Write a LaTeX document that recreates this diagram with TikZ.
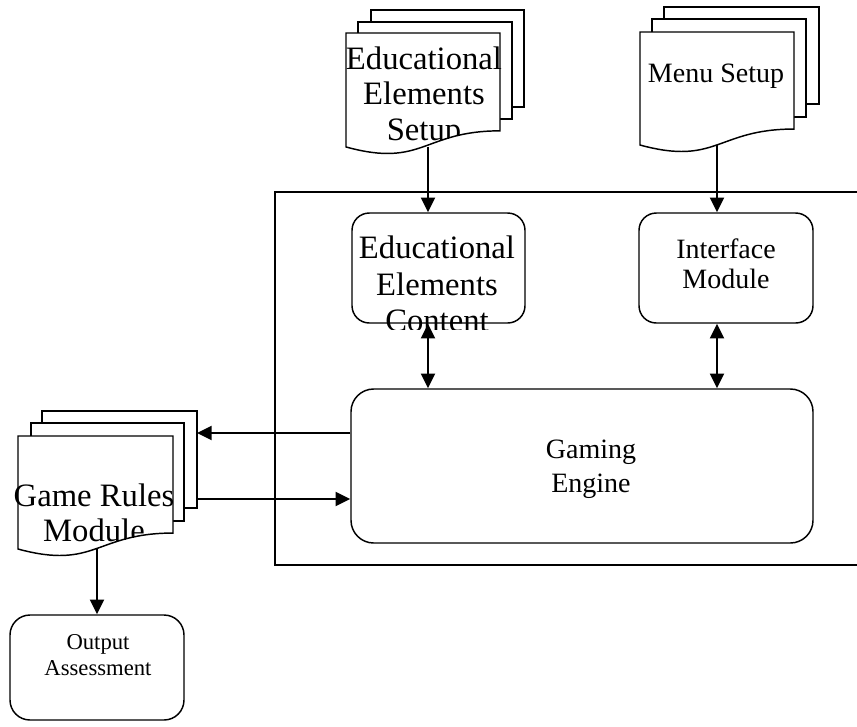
\documentclass[tikz,border=0pt]{standalone}
\usepackage{fontspec}
\setmainfont{Liberation Serif}
\usetikzlibrary{arrows.meta,fit}
\begin{document}
\begin{tikzpicture}[x=0.75pt,y=-0.75pt,line width=1.1pt,
  box/.style={draw,rounded corners=#1,inner sep=0pt,fill=white},
  page/.style={draw,fill=white},
  conn/.style={line width=1.5pt,-{Triangle[length=11pt,width=10.5pt]}},
  dconn/.style={line width=1.5pt,{Triangle[length=11pt,width=10.5pt]}-{Triangle[length=11pt,width=10.5pt]}},
  docsh/.style n args={4}{insert path={(#1,#2) -- ++(#3,0) -- ++(0,0.802*#4) .. controls (#1+0.5*#3,#2+0.802*#4) and (#1+0.5*#3,#2+1.108*#4) .. (#1,#2+0.934*#4) -- cycle}},
  docclip/.style n args={4}{insert path={(#1-30,#2-30) -- (#1+#3+30,#2-30) -- (#1+#3+30,#2+0.802*#4) -- (#1+#3,#2+0.802*#4) .. controls (#1+0.5*#3,#2+0.802*#4) and (#1+0.5*#3,#2+1.108*#4) .. (#1,#2+0.934*#4) -- (#1-30,#2+0.934*#4) -- cycle}},
  big/.style={font=\fontsize{24.5}{26.5}\selectfont,align=center,inner sep=0pt,anchor=north},
  mid/.style={font=\fontsize{21}{26}\selectfont,align=center,inner sep=0pt,anchor=north},
  small/.style={font=\fontsize{17}{19.5}\selectfont,align=center,inner sep=0pt,anchor=north}]
\useasboundingbox (0,0) rectangle (857,726);
% outer frame (open on the right)
\draw (857,192) -- (275,192) -- (275,565) -- (857,565);
% Educational Elements Setup (multi-document)
\draw[page] (371,10) rectangle (524,107);
\draw[page] (358,22) rectangle (512,119);
\draw[page,docsh={346}{33}{154}{122}];
% Menu Setup
\draw[page] (664,7) rectangle (819,104);
\draw[page] (652,19) rectangle (806,117);
\draw[page,docsh={640}{32}{154}{121}];
% Game Rules Module
\draw[page] (42,411) rectangle (197,508);
\draw[page] (31,423) rectangle (184,521);
\draw[page,docsh={18}{436}{155}{121}];
% boxes
\node[box=13pt,fit={(352,213) (525,323)}] (eduC) {};
\node[box=13pt,fit={(639,213) (813,323)}] (intf) {};
\node[box=17pt,fit={(351,389) (813,543)}] (game) {};
\node[box=15pt,fit={(10,615) (184,720)}] (outp) {};
% connector end points on the document shapes
\coordinate (eduSout) at (428,146.5);
\coordinate (menuOut) at (717,145);
\coordinate (rulesA) at (197,433);
\coordinate (rulesB) at (197,499);
\coordinate (rulesOut) at (97,549);
% connectors
\draw[conn] (eduSout) -- (eduSout |- eduC.north);
\draw[conn] (menuOut) -- (menuOut |- intf.north);
\draw[dconn] (eduSout |- eduC.south) -- (eduSout |- game.north);
\draw[dconn] (menuOut |- intf.south) -- (menuOut |- game.north);
\draw[conn] (game.west |- rulesA) -- (rulesA);
\draw[conn] (rulesB) -- (game.west |- rulesB);
\draw[conn] (rulesOut) -- (rulesOut |- outp.north);
% texts
\begin{scope}
\clip[docclip={346}{33}{154}{122}];
\node[big] (eduSt) at (424,46) {Educational\\Elements\\Setup};
\end{scope}
\begin{scope}
\clip (300,200) rectangle (560,329);
\node[big,font=\fontsize{24.5}{27.5}\selectfont] (eduCt) at (437,235) {Educational\\Elements\\Content};
\end{scope}
\node[mid] (menuT) at (716,63) {Menu Setup};
\node[mid,font=\fontsize{21}{22.5}\selectfont] (intfT) at (726,238) {Interface\\Module};
\node[mid] (gameT) at (591,439) {Gaming\\Engine};
\begin{scope}
\clip[docclip={18}{436}{155}{121}];
\node[big] (rulesT) at (94,483) {Game Rules\\Module};
\end{scope}
\node[small] (outT) at (98,634) {Output\\Assessment};
\end{tikzpicture}
\end{document}
